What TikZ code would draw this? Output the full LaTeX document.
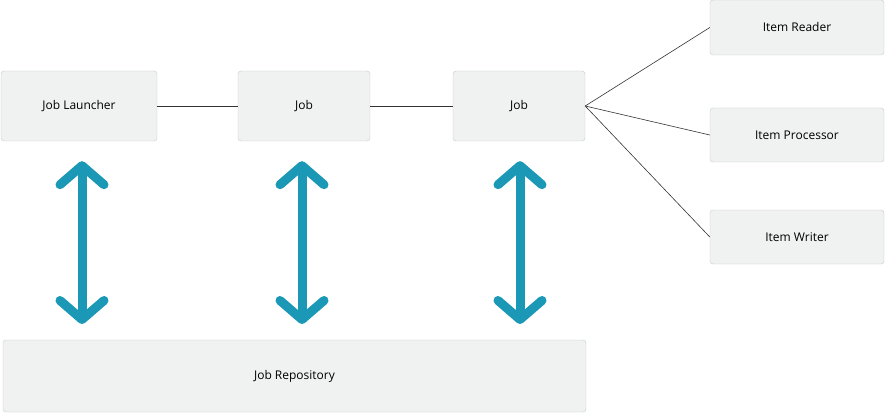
\documentclass[tikz,border=0pt]{standalone}
\usepackage{fontspec}
\setmainfont{Open Sans}
\usetikzlibrary{arrows.meta,positioning}
\definecolor{boxFill}{HTML}{F0F1F1}
\definecolor{boxLine}{HTML}{C8C9C9}
\definecolor{repoTeal}{HTML}{1A98B5}
\tikzset{box/.style={draw=boxLine, fill=boxFill, rounded corners=3pt,
  inner sep=0pt, font=\fontsize{12}{14}\selectfont}}
\tikzset{link/.style={draw, black!80, line width=0.6pt}}
\tikzset{rw/.style={draw, repoTeal, line width=9pt, line cap=round,
  {Straight Barb[length=19pt,width=44pt,round]}-{Straight Barb[length=19pt,width=44pt,round]},
  shorten <=20pt, shorten >=16pt}}
\begin{document}
\begin{tikzpicture}[x=1pt,y=-1pt]
        \useasboundingbox (0,0) rectangle (885,414);
        %% top row
        \node (launch) at (79,106) [box, minimum width=156, minimum height=70] {Job Launcher};
        \node (job1) at (304,106) [box, minimum width=132, minimum height=70] {Job};
        \node (job2) at (519,106) [box, minimum width=132, minimum height=70] {Job};
        %% step parts
        \node (reader) at (797,27.5) [box, minimum width=174, minimum height=55] {Item Reader};
        \node (proc) at (797,135) [box, minimum width=174, minimum height=54] {Item Processor};
        \node (writer) at (797,237) [box, minimum width=174, minimum height=54] {Item Writer};
        %% repository
        \node (repo) at (294.5,376) [box, minimum width=583, minimum height=72] {Job Repository};
        \draw [link] (launch) to (job1);
        \draw [link] (job1) to (job2);
        \draw [link] (job2.east) to (reader.west);
        \draw [link] (job2.east) to (proc.west);
        \draw [link] (job2.east) to (writer.west);
        \coordinate (r1) at (82,340);
        \coordinate (r2) at (302,340);
        \coordinate (r3) at (520,340);
        \draw [rw] (launch.south -| r1) to (r1);
        \draw [rw] (job1.south -| r2) to (r2);
        \draw [rw] (job2.south -| r3) to (r3);
    \end{tikzpicture}
\end{document}
